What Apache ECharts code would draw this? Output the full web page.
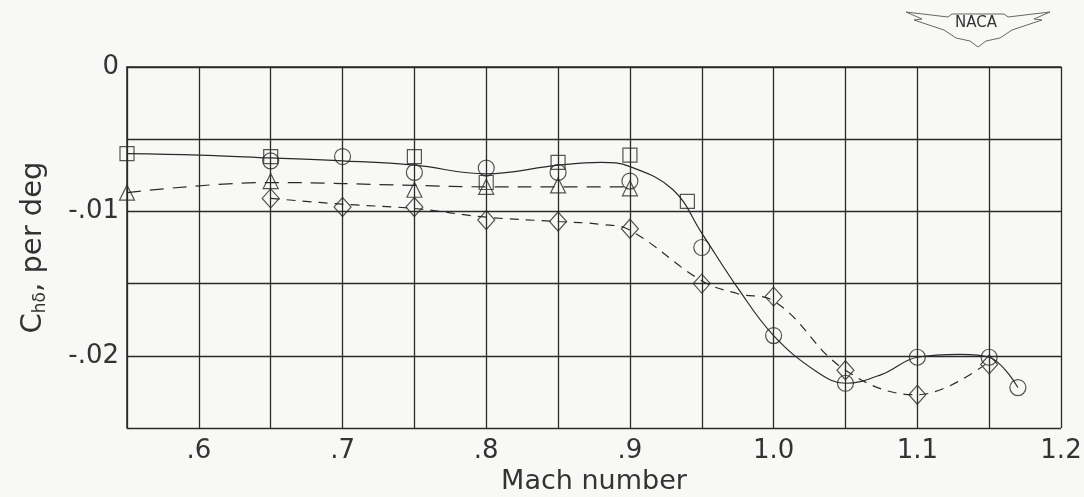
<!DOCTYPE html>
<html><head><meta charset="utf-8">
<script src="https://cdn.jsdelivr.net/npm/echarts@6/dist/echarts.min.js"></script>
<style>html,body{margin:0;padding:0;background:#f8f8f6}#c{width:1084px;height:497px}</style>
</head><body><div id="c"></div>
<script>
// Marker data (Mach, Ch_delta per deg)
const squarePts = [[0.55,-0.0060],[0.65,-0.0062],[0.75,-0.0062],[0.80,-0.0080],[0.85,-0.0066],[0.90,-0.0061],[0.94,-0.0093]];
const circlePts = [[0.65,-0.0065],[0.70,-0.0062],[0.75,-0.0073],[0.80,-0.0070],[0.85,-0.0073],[0.90,-0.0079],[0.95,-0.0125],[1.00,-0.0186],[1.05,-0.0219],[1.10,-0.0201],[1.15,-0.0201],[1.17,-0.0222]];
const trianglePts = [[0.55,-0.0087],[0.65,-0.0079],[0.75,-0.0085],[0.80,-0.0083],[0.85,-0.0082],[0.90,-0.0084]];
const diamondPts = [[0.65,-0.0091],[0.70,-0.0097],[0.75,-0.0097],[0.80,-0.0106],[0.85,-0.0107],[0.90,-0.0112],[0.95,-0.0150],[1.00,-0.0159],[1.05,-0.0210],[1.10,-0.0227],[1.15,-0.0206]];
// Faired curves
const solidCurve = [[0.55,-0.0060],[0.60,-0.0061],[0.65,-0.0063],[0.70,-0.0065],[0.75,-0.0068],[0.80,-0.0074],[0.85,-0.0068],[0.88,-0.0066],[0.90,-0.0069],[0.93,-0.0085],[0.95,-0.0115],[0.975,-0.0153],[1.00,-0.0186],[1.03,-0.0211],[1.05,-0.0219],[1.075,-0.0213],[1.10,-0.0201],[1.13,-0.0199],[1.15,-0.0201],[1.17,-0.0222]];
const triCurve = [[0.55,-0.0087],[0.65,-0.0080],[0.75,-0.0082],[0.80,-0.0083],[0.85,-0.0083],[0.90,-0.0083]];
const diaCurve = [[0.65,-0.0091],[0.70,-0.0095],[0.75,-0.0098],[0.80,-0.0104],[0.85,-0.0107],[0.88,-0.0109],[0.90,-0.0113],[0.95,-0.0148],[0.975,-0.0157],[1.00,-0.0162],[1.05,-0.0210],[1.10,-0.0227],[1.15,-0.0204]];
const xTickLabels = {60:'.6',70:'.7',80:'.8',90:'.9',100:'1.0',110:'1.1',120:'1.2'};
const yTickLabels = {0:'0',10:'-.01',20:'-.02'};

const ink = '#2a2a2a';
const font = 'DejaVu Sans';
const chart = echarts.init(document.getElementById('c'));
function scatter(data, symbol, size){
  return {type:'scatter', data, symbol, symbolSize:size, clip:false, z:5,
    itemStyle:{color:'rgba(0,0,0,0)', borderColor:ink, borderWidth:1.2}};
}
chart.setOption({
  backgroundColor:'#f8f8f6',
  animation:false,
  grid:{left:127, right:23, top:67, bottom:69, containLabel:false, outerBoundsMode:'none'},
  xAxis:{type:'value', min:0.55, max:1.2, interval:0.05,
    axisLine:{show:true, lineStyle:{color:ink, width:1.5}},
    axisTick:{show:false},
    splitLine:{show:true, lineStyle:{color:ink, width:1.3}},
    axisLabel:{margin:10, fontFamily:font, fontSize:26, color:'#333',
      formatter:v=>xTickLabels[Math.round(v*100)]||''},
    name:'Mach number', nameLocation:'middle', nameGap:40,
    nameTextStyle:{fontFamily:font, fontSize:27, color:'#333'}},
  yAxis:{type:'value', min:-0.025, max:0, interval:0.005,
    axisLine:{show:true, lineStyle:{color:ink, width:1.5}},
    axisTick:{show:false},
    splitLine:{show:true, lineStyle:{color:ink, width:1.3}},
    axisLabel:{margin:8, fontFamily:font, fontSize:26, color:'#333',
      formatter:v=>yTickLabels[Math.round(-v*1000)]||''},
    name:'{a|C}{s|hδ}{a|, per deg}', nameLocation:'middle', nameGap:78, nameRotate:90,
    nameTextStyle:{rich:{a:{fontFamily:font, fontSize:29, color:'#333'}, s:{fontFamily:font, fontSize:17, color:'#333', verticalAlign:'bottom', padding:[14,0,0,0]}}}},
  series:[
    {type:'line', data:solidCurve, smooth:0.4, symbol:'none', lineStyle:{color:ink, width:1.2}},
    {type:'line', data:triCurve, smooth:0.4, symbol:'none', lineStyle:{color:ink, width:1.2, type:[14,9]}},
    {type:'line', data:diaCurve, smooth:0.4, symbol:'none', lineStyle:{color:ink, width:1.2, type:[9,7]}},
    scatter(squarePts,'rect',14),
    scatter(circlePts,'circle',16),
    scatter(trianglePts,'triangle',15),
    scatter(diamondPts,'diamond',[17,19])
  ],
  graphic:[
    {type:'polygon', shape:{points:[[906,12],[948,17],[952,14],[1004,14],[1008,17],[1050,12],[1034,19],[1042,20],[1012,30],[1000,38],[986,41],[978,47],[970,41],[956,38],[944,30],[914,20],[922,19]]},
      style:{fill:'rgba(0,0,0,0)', stroke:'#666', lineWidth:1}},
    {type:'text', left:955, top:16, style:{text:'NACA', fontFamily:font, fontSize:15, fill:'#333'}}
  ]
});
</script></body></html>
